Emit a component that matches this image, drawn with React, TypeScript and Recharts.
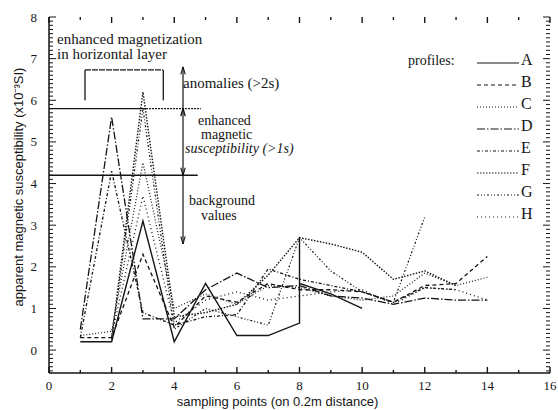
import React from 'react';
import {
  LineChart,
  Line,
  XAxis,
  YAxis,
  ReferenceLine
} from 'recharts';

// sampling points along the profiles (0.2 m apart)
const samplingPoints = [1, 2, 3, 4, 5, 6, 7, 8, 9, 10, 11, 12, 13, 14];
const pointsA = [1, 2, 3, 4, 5, 6, 7, 8, 8, 8, 9, 10];
const pointsG = [2, 3, 4, 5, 6, 7, 8, 9, 10, 11, 12];

// apparent magnetic susceptibility (x10^-3 SI)
const profileA = [0.2, 0.2, 3.1, 0.2, 1.6, 0.35, 0.35, 0.65, 2.7, 1.6, 1.35, 1.0];
const profileB = [0.3, 0.3, 2.3, 0.55, 1.3, 1.15, 1.6, 1.45, 1.45, 1.4, 1.15, 1.55, 1.6, 2.25];
const profileC = [0.35, 0.45, 4.5, 1.0, 1.35, 1.1, 1.55, 1.5, 1.3, 1.2, 1.3, 1.85, 1.55, 1.75];
const profileD = [0.5, 5.6, 0.75, 0.75, 1.45, 1.85, 1.5, 1.55, 1.3, 1.25, 1.1, 1.25, 1.2, 1.2];
const profileE = [0.3, 4.3, 0.9, 0.6, 0.8, 0.85, 1.95, 1.7, 1.55, 1.4, 1.15, 1.5, 1.45, null];
const profileF = [null, 0.3, 6.2, 0.8, 0.9, 1.1, 1.8, 2.7, 2.55, 2.35, 1.7, 1.9, 1.55, null];
const profileG = [0.25, 5.8, 0.5, 1.0, 0.8, 0.6, 2.7, 1.9, 1.4, 1.15, 3.2];
const profileH = [null, 0.35, 3.7, 0.65, 1.2, 1.4, 1.2, 1.3, 1.4, 1.45, 1.1, 1.5, 1.45, 1.2];

const xTicks = [0, 1, 2, 3, 4, 5, 6, 7, 8, 9, 10, 11, 12, 13, 14, 15, 16];
const yTicks = [0, 1, 2, 3, 4, 5, 6, 7, 8];
const yMinorTicks = Array.from({ length: 86 }, (_, i) => Math.round((-0.5 + i * 0.1) * 10) / 10);

// thresholds: mean + 1s and mean + 2s
const level1s = 4.2;
const level2s = 5.8;

const yMin = -0.55;
const yMax = 8;

// plot frame in pixels (matches the chart margins / axis sizes below)
const frame = { left: 49, right: 550, top: 17, bottom: 373 };
const fx = (v: number) => frame.left + (v / 16) * (frame.right - frame.left);
const fy = (v: number) => frame.top + ((yMax - v) / (yMax - yMin)) * (frame.bottom - frame.top);

const toSeries = (xs: number[], ys: (number | null)[]) => xs.map((x, i) => ({ x, y: ys[i] }));

const profiles = [
  { name: 'A', data: toSeries(pointsA, profileA), dash: undefined, width: 1.4 },
  { name: 'B', data: toSeries(samplingPoints, profileB), dash: '4 3', width: 1.3 },
  { name: 'C', data: toSeries(samplingPoints, profileC), dash: '1 2', width: 1.2 },
  { name: 'D', data: toSeries(samplingPoints, profileD), dash: '8 2 1.5 2', width: 1.3 },
  { name: 'E', data: toSeries(samplingPoints, profileE), dash: '3 2 1 2', width: 1.3 },
  { name: 'F', data: toSeries(samplingPoints, profileF), dash: '1.5 1.5', width: 1.4 },
  { name: 'G', data: toSeries(pointsG, profileG), dash: '2 2 1 2 1 2', width: 1.2 },
  { name: 'H', data: toSeries(samplingPoints, profileH), dash: '1 3', width: 1.3 },
];

const ink = '#151515';
const serif = '"Liberation Serif", "Times New Roman", serif';
const sans = '"Liberation Sans", Arial, sans-serif';

const isWhole = (v: number) => Math.abs(v - Math.round(v)) < 0.01;

const LeftTick = ({ x, y, payload }: any) => (
  <text x={x} y={y} dy={4.5} textAnchor="end" fill={ink} fontSize={13} fontFamily={serif}>{payload.value}</text>
);
const BottomTick = ({ x, y, payload }: any) =>
  payload.value % 2 === 0 ? (
    <text x={x} y={y} dy={7} textAnchor="middle" fill={ink} fontSize={13} fontFamily={serif}>{payload.value}</text>
  ) : (
    <g />
  );

// inward tick marks around the frame (ruler look of the scan)
const FrameTicks = () => (
  <svg width={558} height={410} style={{ position: 'absolute', left: 0, top: 0, pointerEvents: 'none' }}>
    <g stroke={ink} strokeWidth={1}>
      {yMinorTicks.map((v) => (
        <line key={`l${v}`} x1={frame.left} x2={frame.left + (isWhole(v) ? 7 : 4)} y1={fy(v)} y2={fy(v)} />
      ))}
      {yMinorTicks.map((v) => (
        <line key={`r${v}`} x1={frame.right} x2={frame.right - (isWhole(v) ? 7 : 4)} y1={fy(v)} y2={fy(v)} />
      ))}
      {xTicks.map((v) => (
        <line key={`b${v}`} x1={fx(v)} x2={fx(v)} y1={frame.bottom} y2={frame.bottom - (v % 2 === 0 ? 6 : 3)} strokeWidth={1.4} />
      ))}
      {xTicks.map((v) => (
        <line key={`t${v}`} x1={fx(v)} x2={fx(v)} y1={frame.top} y2={frame.top + (v % 2 === 0 ? 6 : 3)} strokeWidth={1.4} />
      ))}
    </g>
  </svg>
);

const ProfileLegend = () => (
  <div style={{ position: 'absolute', left: 400, top: 50, width: 150, height: 190, fontFamily: serif, color: ink }}>
    <div style={{ position: 'absolute', left: 8, top: 3, fontSize: 14 }}>profiles:</div>
    {profiles.map((p, i) => (
      <div key={p.name} style={{ position: 'absolute', left: 77, top: i * 22, height: 20, display: 'flex', alignItems: 'center' }}>
        <svg width={44} height={12}>
          <line x1={0} y1={9} x2={42} y2={9} stroke={ink} strokeWidth={1} strokeDasharray={p.dash} />
        </svg>
        <span style={{ fontSize: 16 }}>{p.name}</span>
      </div>
    ))}
  </div>
);

const note = (text: string, left: number, top: number, size = 15, italic = false) => (
  <div
    style={{
      position: 'absolute',
      left,
      top,
      fontFamily: serif,
      fontSize: size,
      fontStyle: italic ? 'italic' : 'normal',
      color: ink,
      whiteSpace: 'nowrap',
      lineHeight: 1,
    }}
  >
    {text}
  </div>
);

const seg = (key: string, x1: number, y1: number, x2: number, y2: number, dash?: string, w = 1.3) => (
  <ReferenceLine
    key={key}
    segment={[{ x: x1, y: y1 }, { x: x2, y: y2 }]}
    stroke={ink}
    strokeWidth={w}
    strokeDasharray={dash}
    ifOverflow="visible"
  />
);

const App = () => {
  const arrowX = 4.28;
  return (
    <div style={{ position: 'absolute', left: 0, top: 0, width: 558, height: 410, background: '#fff' }}>
      <LineChart width={558} height={410} margin={{ top: 17, right: 8, bottom: 0, left: 0 }}>
        <YAxis type="number" domain={[yMin, yMax]} ticks={yTicks} width={49} interval={0}
          axisLine={{ stroke: ink, strokeWidth: 1.5 }} tickLine={false} tickMargin={6} tick={<LeftTick />}
          label={{ value: 'apparent magnetic susceptibility (x10⁻³SI)', angle: -90, position: 'center', dx: -6, dy: -8,
            style: { fill: ink, fontSize: 13, fontFamily: sans } }} />
        <YAxis yAxisId="right" orientation="right" type="number" domain={[yMin, yMax]} width={0}
          axisLine={{ stroke: ink, strokeWidth: 1.5 }} tickLine={false} tick={false} />
        <XAxis xAxisId="top" orientation="top" type="number" domain={[0, 16]} height={0}
          axisLine={{ stroke: ink, strokeWidth: 1.5 }} tickLine={false} tick={false} />
        <XAxis dataKey="x" type="number" domain={[0, 16]} ticks={xTicks} height={37} interval={0}
          allowDuplicatedCategory={false}
          axisLine={{ stroke: ink, strokeWidth: 1.5 }} tickLine={false} tickMargin={4} tick={<BottomTick />}
          label={{ value: 'sampling points (on 0.2m distance)', position: 'insideBottom', offset: 4, dx: -22,
            style: { fill: ink, fontSize: 13, fontFamily: sans } }} />

        {/* threshold lines */}
        {seg('up1', 0, level2s, 3.1, level2s, undefined, 1.4)}
        {seg('up2', 3.1, level2s, 4.85, level2s, '2 1', 1.2)}
        {seg('lo', 0, level1s, 4.75, level1s, undefined, 1.4)}

        {/* bracket over the anomaly */}
        {seg('br1', 1.15, 6.0, 1.15, 6.73)}
        {seg('br2', 1.15, 6.73, 3.65, 6.73, '6 1')}
        {seg('br3', 3.65, 6.73, 3.65, 6.0)}

        {/* range arrow */}
        {seg('ar', arrowX, 2.55, arrowX, 6.8, undefined, 1.2)}
        {seg('a1', arrowX - 0.07, 6.62, arrowX, 6.8, undefined, 1.1)}
        {seg('a2', arrowX + 0.07, 6.62, arrowX, 6.8, undefined, 1.1)}
        {seg('a3', arrowX - 0.07, 5.62, arrowX, 5.8, undefined, 1.4)}
        {seg('a4', arrowX + 0.07, 5.62, arrowX, 5.8, undefined, 1.4)}
        {seg('a5', arrowX - 0.07, 4.38, arrowX, 4.2, undefined, 1.1)}
        {seg('a6', arrowX + 0.07, 4.38, arrowX, 4.2, undefined, 1.1)}
        {seg('a7', arrowX - 0.07, 2.73, arrowX, 2.55, undefined, 1.1)}
        {seg('a8', arrowX + 0.07, 2.73, arrowX, 2.55, undefined, 1.1)}

        {profiles.map((p) => (
          <Line
            key={p.name}
            data={p.data}
            dataKey="y"
            name={p.name}
            type="linear"
            stroke={ink}
            strokeWidth={p.width}
            strokeDasharray={p.dash}
            dot={false}
            activeDot={false}
            isAnimationActive={false}
          />
        ))}
      </LineChart>

      <FrameTicks />
      <ProfileLegend />
      {note('enhanced magnetization', 57, 32)}
      {note('in horizontal layer', 57, 47)}
      {note('anomalies (>2s)', 183, 76)}
      {note('enhanced', 198, 114, 14)}
      {note('magnetic', 201, 128, 14)}
      {note('susceptibility (>1s)', 185, 142, 14, true)}
      {note('background', 189, 194, 14)}
      {note('values', 201, 209, 14)}
    </div>
  );
};

export default App;
